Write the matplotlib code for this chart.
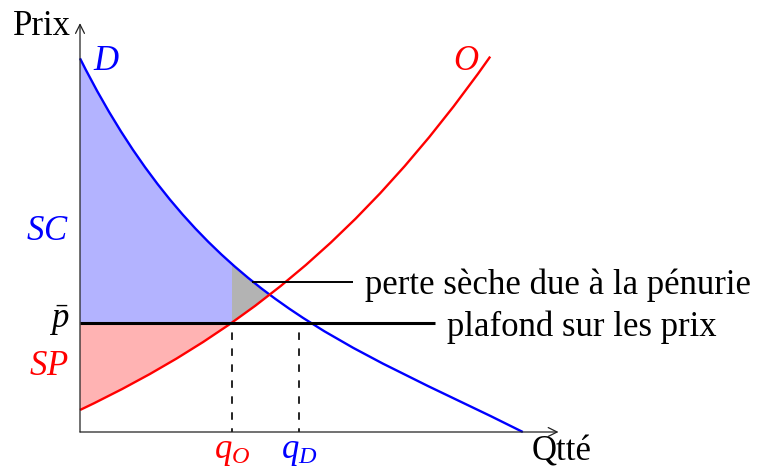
import matplotlib
matplotlib.use("Agg")
import matplotlib.pyplot as plt
from matplotlib.path import Path
from matplotlib.patches import PathPatch, Rectangle

plt.rcParams["font.family"] = "Liberation Serif"
plt.rcParams["mathtext.fontset"] = "custom"
plt.rcParams["mathtext.rm"] = "Liberation Serif"
plt.rcParams["mathtext.it"] = "Liberation Serif:italic"
plt.rcParams["lines.scale_dashes"] = False

# curves as cubic Bezier control points (quantity, price)
demand_q = [0.0, 2.8, 6.2, 10.18]
demand_p = [8.59, 3.0, 2.0, 0.0]
supply_q = [0.0, 3.5, 6.43, 9.43]
supply_p = [0.506, 2.17, 4.37, 8.63]

price_ceiling = 2.5
q_offer = 3.49
q_demand = 5.04
q_axis_end = 11.0
p_axis_end = 9.4

BLUE = "#0000ff"
RED = "#ff0000"
FS = 25

# layout: 43.5 px per unit, origin at pixel (80, 432) of a 761x469 canvas
scale = 43.5
fig = plt.figure(figsize=(7.61, 4.69), dpi=100)
ax = fig.add_axes([0, 0, 1, 1])
ax.set_xlim(-80 / scale, (761 - 80) / scale)
ax.set_ylim(-(469 - 432) / scale, 432 / scale)
ax.axis("off")

bez = [Path.MOVETO, Path.CURVE4, Path.CURVE4, Path.CURVE4]
demand_verts = list(zip(demand_q, demand_p))
supply_verts = list(zip(supply_q, supply_p))

under_demand = Path(demand_verts + [(demand_q[-1], 0), (0, 0), (0, 0)],
                    bez + [Path.LINETO, Path.LINETO, Path.CLOSEPOLY])
above_supply = Path(supply_verts + [(supply_q[-1], 20), (0, 20), (0, 0)],
                    bez + [Path.LINETO, Path.LINETO, Path.CLOSEPOLY])
clip_demand = PathPatch(under_demand, transform=ax.transData)
clip_supply = PathPatch(above_supply, transform=ax.transData)

# deadweight loss: everything between the curves, covered left of q_O
grey = PathPatch(above_supply, fc="#b3b3b3", ec="none", zorder=1)
ax.add_patch(grey)
grey.set_clip_path(clip_demand)

sc = Rectangle((0, price_ceiling), q_offer, 20, fc="#b3b3ff", ec="none", zorder=2)
ax.add_patch(sc)
sc.set_clip_path(clip_demand)

sp = Rectangle((0, 0), q_offer, price_ceiling, fc="#ffb3b3", ec="none", zorder=2)
ax.add_patch(sp)
sp.set_clip_path(clip_supply)

ax.add_patch(PathPatch(Path(demand_verts, bez), fc="none", ec=BLUE, lw=1.7, zorder=4))
ax.add_patch(PathPatch(Path(supply_verts, bez), fc="none", ec=RED, lw=1.7, zorder=4))

# dashed guides
for q in (q_offer, q_demand):
    ax.plot([q, q], [0, price_ceiling], color="black", lw=1.2,
            linestyle=(2.7, (5.4, 6.1)), zorder=3)

# price ceiling and leader line
ax.plot([0, 8.16], [price_ceiling, price_ceiling], color="black", lw=2.2,
        solid_capstyle="butt", zorder=5)
ax.text(8.44, price_ceiling, "plafond sur les prix", fontsize=FS,
        ha="left", va="center_baseline")
ax.plot([3.95, 6.28], [3.455, 3.455], color="black", lw=1.4,
        solid_capstyle="butt", zorder=5)
ax.text(6.55, 3.455, "perte sèche due à la pénurie", fontsize=FS,
        ha="left", va="center_baseline")

# axes
arrow = dict(arrowstyle="->", lw=0.9, color="#222222", shrinkA=0, shrinkB=0,
             mutation_scale=16)
ax.annotate("", xy=(0, p_axis_end), xytext=(0, 0), arrowprops=arrow, zorder=6)
ax.annotate("", xy=(q_axis_end, 0), xytext=(0, 0), arrowprops=arrow, zorder=6)
ax.text(-0.2, 9.115, "Prix", fontsize=FS, ha="right", va="baseline")
ax.text(11.08, -0.65, "Qtté", fontsize=FS, ha="center", va="baseline")

# curve and area labels
ax.text(0.3, 8.32, "$D$", fontsize=FS, color=BLUE, ha="left", va="baseline")
ax.text(8.87, 8.32, "$O$", fontsize=FS, color=RED, ha="center", va="baseline")
ax.text(-0.25, 4.41, "$SC$", fontsize=FS, color=BLUE, ha="right", va="baseline")
ax.text(-0.25, 2.39, r"$\bar{p}$", fontsize=FS, color="black", ha="right", va="baseline")
ax.text(-0.25, 1.31, "$SP$", fontsize=FS, color=RED, ha="right", va="baseline")
ax.text(q_offer, -0.6, "$q_O$", fontsize=FS, color=RED, ha="center", va="baseline")
ax.text(q_demand, -0.6, "$q_D$", fontsize=FS, color=BLUE, ha="center", va="baseline")

fig.savefig("out.png", dpi=100)
